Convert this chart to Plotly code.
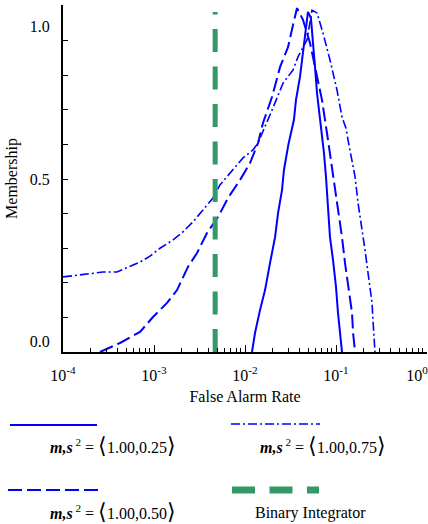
import plotly.graph_objects as go

# Membership functions over false alarm rate for three (mu, sigma^2) settings
far_025 = [1.194e-2, 1.288e-2, 1.462e-2, 1.66e-2, 1.883e-2, 2.14e-2, 2.31e-2, 2.55e-2,
           2.68e-2, 3.0e-2, 3.45e-2, 3.63e-2, 4.02e-2, 4.56e-2, 4.92e-2, 5.3e-2, 5.59e-2,
           5.88e-2, 6.18e-2, 6.5e-2, 7.02e-2, 7.38e-2, 7.76e-2, 8.17e-2, 8.59e-2, 9.27e-2,
           0.100, 0.1052, 0.1164]
mem_025 = [0.0, 0.055, 0.121, 0.179, 0.257, 0.332, 0.402, 0.468,
           0.526, 0.60, 0.671, 0.728, 0.795, 0.922, 0.983, 0.965, 0.902,
           0.824, 0.749, 0.699, 0.633, 0.575, 0.506, 0.431, 0.332, 0.266,
           0.188, 0.113, 0.0]

far_050 = [2.55e-4, 4.23e-4, 7.02e-4, 9.75e-4, 1.39e-3, 1.79e-3, 2.36e-3, 2.97e-3,
           3.82e-3, 4.45e-3, 5.05e-3, 6.5e-3, 8.81e-3, 1.135e-2, 1.39e-2, 1.577e-2,
           1.98e-2, 2.43e-2, 2.97e-2, 3.37e-2, 3.73e-2, 4.34e-2, 5.18e-2, 5.88e-2,
           7.02e-2, 7.96e-2, 9.27e-2, 0.1026, 0.1164, 0.1256, 0.1355, 0.150, 0.154, 0.162]
mem_050 = [0.0, 0.026, 0.058, 0.101, 0.142, 0.179, 0.246, 0.286,
           0.344, 0.37, 0.39, 0.445, 0.497, 0.546, 0.604, 0.662,
           0.737, 0.824, 0.881, 0.945, 0.994, 0.96, 0.893, 0.824,
           0.728, 0.633, 0.517, 0.431, 0.332, 0.257, 0.188, 0.113, 0.055, 0.0]

far_075 = [1.0e-4, 1.98e-4, 2.75e-4, 3.92e-4, 5.05e-4, 7.02e-4, 9.04e-4, 1.164e-3,
           1.62e-3, 2.08e-3, 2.68e-3, 3.45e-3, 4.45e-3, 5.31e-3, 7.38e-3, 9.51e-3,
           1.224e-2, 1.39e-2, 1.98e-2, 2.62e-2, 3.37e-2, 3.82e-2, 4.80e-2, 5.45e-2,
           6.18e-2, 7.19e-2, 8.59e-2, 0.1026, 0.1164, 0.1288, 0.1355, 0.150, 0.162,
           0.1746, 0.193, 0.2084, 0.225, 0.249, 0.255, 0.268]
mem_075 = [0.217, 0.225, 0.231, 0.231, 0.243, 0.260, 0.277, 0.300,
           0.324, 0.347, 0.376, 0.410, 0.445, 0.483, 0.526, 0.561,
           0.584, 0.604, 0.699, 0.777, 0.815, 0.853, 0.902, 0.988,
           0.980, 0.922, 0.844, 0.757, 0.679, 0.647, 0.613, 0.555, 0.506,
           0.431, 0.361, 0.295, 0.228, 0.142, 0.092, 0.0]

# Binary integrator operating point
binary_far = [0.0047, 0.0047]
binary_mem = [0.0, 0.983]

x_tickvals = [1e-4, 1e-3, 1e-2, 1e-1, 1]
x_ticktext = ["10<sup>-4</sup>", "10<sup>-3</sup>", "10<sup>-2</sup>", "10<sup>-1</sup>",
              "10<sup>0</sup>&nbsp;&nbsp;&nbsp;&nbsp;&nbsp;"]
y_tickvals = [0.0, 0.5, 1.0]
# padding lines keep the end labels inside the figure, next to their ticks
y_ticktext = ["0.0<br>&nbsp;", "0.5", "&nbsp;<br>&nbsp;<br>1.0"]

legend_labels = [
    "<b><i>m,s</i></b><sup> 2</sup> = <span style='font-size:22px'>⟨</span>1.00,0.25<span style='font-size:22px'>⟩</span>",
    "<b><i>m,s</i></b><sup> 2</sup> = <span style='font-size:22px'>⟨</span>1.00,0.75<span style='font-size:22px'>⟩</span>",
    "<b><i>m,s</i></b><sup> 2</sup> = <span style='font-size:22px'>⟨</span>1.00,0.50<span style='font-size:22px'>⟩</span>",
    "Binary Integrator",
]

BLUE = "#0000FF"
GREEN = "#339966"
FONT = "Liberation Serif"

W, H = 428, 524
ML, MR, MT, MB = 63, 1, 5, 172
PW, PH = W - ML - MR, H - MT - MB


def px_x(px):
    return (px - ML) / PW


def px_y(py):
    return (H - MB - py) / PH


styles = {
    "solid": dict(color=BLUE, width=2, dash="solid"),
    "dashdot": dict(color=BLUE, width=1.6, dash="9px,3px,2px,3px"),
    "dash": dict(color=BLUE, width=2, dash="14px,5px"),
    "green": dict(color=GREEN, width=5, dash="23px,14.5px"),
}

fig = go.Figure()
fig.add_trace(go.Scatter(x=far_025, y=mem_025, mode="lines", line=styles["solid"],
                         showlegend=False))
fig.add_trace(go.Scatter(x=far_050, y=mem_050, mode="lines", line=styles["dash"],
                         showlegend=False))
fig.add_trace(go.Scatter(x=far_075, y=mem_075, mode="lines", line=styles["dashdot"],
                         showlegend=False))
fig.add_trace(go.Scatter(x=binary_far, y=binary_mem, mode="lines", line=styles["green"],
                         showlegend=False))

# Hand-laid legend below the axes: sample line on top, label underneath
legend_items = [
    (styles["solid"], 10, 97, 425, 113, 445, legend_labels[0]),
    (styles["dashdot"], 231, 320, 424, 323, 445, legend_labels[1]),
    (styles["dash"], 8, 98, 490, 113, 511, legend_labels[2]),
    (dict(styles["green"], width=7), 232, 319, 490, 310, 513, legend_labels[3]),
]
shapes = []
annotations = []
for line, x0, x1, ly, tx, ty, label in legend_items:
    shapes.append(dict(type="line", xref="paper", yref="paper",
                       x0=px_x(x0), x1=px_x(x1), y0=px_y(ly), y1=px_y(ly),
                       line=line))
    annotations.append(dict(xref="paper", yref="paper", x=px_x(tx), y=px_y(ty),
                            text=label, showarrow=False, xanchor="center",
                            yanchor="middle", font=dict(family=FONT, size=16,
                                                        color="black")))

fig.update_layout(
    width=W, height=H,
    margin=dict(l=ML, r=MR, t=MT, b=MB, pad=0, autoexpand=False),
    paper_bgcolor="white", plot_bgcolor="white",
    font=dict(family=FONT, size=16, color="black"),
    shapes=shapes,
    annotations=annotations,
    showlegend=False,
)
fig.update_xaxes(
    type="log", range=[-4, 0], automargin=False,
    tickvals=x_tickvals, ticktext=x_ticktext,
    ticks="inside", ticklen=7, tickwidth=1.2, tickcolor="black",
    minor=dict(ticks="inside", ticklen=4, tickwidth=1, tickcolor="black", dtick="D1"),
    showline=True, linewidth=2, linecolor="black",
    showgrid=False, zeroline=False,
    ticklabeloverflow="allow", ticklabelstandoff=8,
    tickfont=dict(family=FONT, size=16),
    title=dict(text="False Alarm Rate", standoff=8, font=dict(family=FONT, size=16)),
)
fig.update_yaxes(
    range=[0, PH / 346], automargin=False,
    tickvals=y_tickvals, ticktext=y_ticktext,
    ticks="inside", ticklen=5, tickwidth=1.2, tickcolor="black",
    minor=dict(ticks="inside", ticklen=5, tickwidth=1.2, tickcolor="black",
               tickvals=[0.1, 0.2, 0.3, 0.4, 0.6, 0.7, 0.8, 0.9]),
    showline=True, linewidth=2, linecolor="black",
    showgrid=False, zeroline=False,
    ticklabeloverflow="allow", ticklabelstandoff=8,
    tickfont=dict(family=FONT, size=16),
    title=dict(text="Membership", standoff=8, font=dict(family=FONT, size=16)),
)

fig.write_html("out.html")
